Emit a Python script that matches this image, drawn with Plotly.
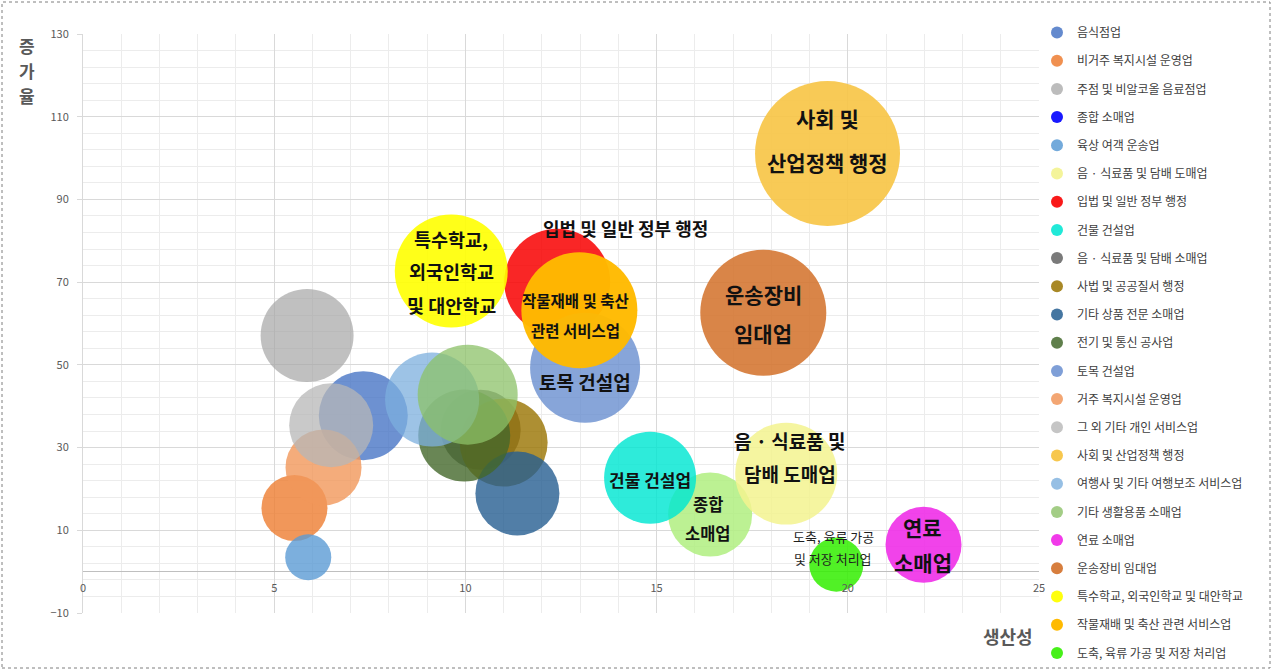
import plotly.graph_objects as go

# ---- data -------------------------------------------------------------
industries = [
    "음식점업", "비거주 복지시설 운영업", "주점 및 비알코올 음료점업", "종합 소매업",
    "육상 여객 운송업", "음 · 식료품 및 담배 도매업", "입법 및 일반 정부 행정", "건물 건설업",
    "음 · 식료품 및 담배 소매업", "사법 및 공공질서 행정", "기타 상품 전문 소매업",
    "전기 및 통신 공사업", "토목 건설업", "거주 복지시설 운영업", "그 외 기타 개인 서비스업",
    "사회 및 산업정책 행정", "여행사 및 기타 여행보조 서비스업", "기타 생활용품 소매업",
    "연료 소매업", "운송장비 임대업", "특수학교, 외국인학교 및 대안학교",
    "작물재배 및 축산 관련 서비스업", "도축, 육류 가공 및 저장 처리업",
]
productivity = [7.33, 5.53, 5.86, 16.4, 5.89, 18.39, 12.4, 14.83, 10.4, 11.0, 11.36,
                9.97, 13.13, 6.29, 6.49, 19.47, 9.13, 10.06, 21.98, 17.79, 9.63,
                12.98, 19.7]
growth = [37.7, 15.4, 57.1, 13.8, 3.5, 23.7, 70.1, 22.7, 34.3, 31.2, 18.9,
          32.9, 49.3, 25.2, 35.4, 101.1, 41.6, 42.8, 6.5, 62.6, 72.7,
          63.2, 1.7]
bubble_size = [39.6, 21.8, 43.2, 35.3, 10.6, 52.0, 56.2, 42.3, 32.0, 38.7, 35.3,
               42.3, 60.5, 28.9, 35.3, 105.1, 44.2, 50.0, 28.9, 79.4, 63.8,
               67.3, 14.6]

# series colours (legend) and fill opacity of each bubble
series_colors = ["#4472C4", "#ED7D31", "#A5A5A5", "#0000FF", "#5B9BD5", "#F3F38F",
                 "#F80000", "#00E6D2", "#636363", "#997300", "#255E91", "#43682B",
                 "#698ED0", "#F1975A", "#B7B7B7", "#F7C548", "#7CAFDD", "#8CC168",
                 "#F02FE8", "#D4742F", "#FFFF00", "#FFBA00", "#33EE00"]
fill_alpha = [0.78, 0.8, 0.7, 0.85, 0.8, 0.85, 0.85, 0.82, 0.8, 0.8, 0.8, 0.8,
              0.8, 0.8, 0.75, 0.92, 0.75, 0.75, 0.9, 0.88, 0.9, 0.97, 0.85]
# individually formatted point fills
point_fill_override = {"종합 소매업": "#B0EE80"}

# bubble labels, one entry per drawn line
bubble_labels = {
    "사회 및 산업정책 행정": ["사회 및", "산업정책 행정"],
    "입법 및 일반 정부 행정": ["입법 및 일반 정부 행정"],
    "특수학교, 외국인학교 및 대안학교": ["특수학교,", "외국인학교", "및 대안학교"],
    "작물재배 및 축산 관련 서비스업": ["작물재배 및 축산", "관련 서비스업"],
    "토목 건설업": ["토목 건설업"],
    "운송장비 임대업": ["운송장비", "임대업"],
    "음 · 식료품 및 담배 도매업": ["음 · 식료품 및", "담배 도매업"],
    "건물 건설업": ["건물 건설업"],
    "종합 소매업": ["종합", "소매업"],
    "도축, 육류 가공 및 저장 처리업": ["도축, 육류 가공", "및 저장 처리업"],
    "연료 소매업": ["연료", "소매업"],
}
# label styling: font size, bold, x offset (px), y offset per line (px, up positive)
label_style = {
    "사회 및 산업정책 행정": (21, True, 0, [36, -8]),
    "입법 및 일반 정부 행정": (18, True, 68, [54]),
    "특수학교, 외국인학교 및 대안학교": (18.5, True, 0, [31.5, -0.5, -34.5]),
    "작물재배 및 축산 관련 서비스업": (15.5, True, -4, [10.5, -19.5]),
    "토목 건설업": (19, True, 0, [-14]),
    "운송장비 임대업": (21, True, 0, [19, -20]),
    "음 · 식료품 및 담배 도매업": (19, True, 4, [33, 0]),
    "건물 건설업": (17, True, 0, [-2]),
    "종합 소매업": (16.5, True, -2, [11, -18]),
    "도축, 육류 가공 및 저장 처리업": (13, False, -3, [28, 6]),
    "연료 소매업": (21, True, -1, [18, -17]),
}

x_title = "생산성"
y_title = "증가율"

# ---- figure -----------------------------------------------------------
FONT = "Noto Sans CJK KR"
W, H = 1273, 670
ML, MR, MT, MB = 83, 234, 34, 57
PW, PH = W - ML - MR, H - MT - MB


def px_to_paper(px, py):
    return (px - ML) / PW, (H - MB - py) / PH


def rgba(hex_color, a):
    h = hex_color.lstrip("#")
    r, g, b = int(h[0:2], 16), int(h[2:4], 16), int(h[4:6], 16)
    return f"rgba({r},{g},{b},{a})"


fills = [rgba(point_fill_override.get(name, col), a)
         for name, col, a in zip(industries, series_colors, fill_alpha)]

fig = go.Figure()

# all bubbles in one trace, drawn in series order
fig.add_trace(go.Scatter(
    x=productivity, y=growth, mode="markers", showlegend=False,
    text=industries, hovertemplate="%{text}<br>생산성 %{x}<br>증가율 %{y}<extra></extra>",
    marker=dict(size=bubble_size, sizemode="area", sizeref=0.01, opacity=1,
                color=fills, line=dict(width=0)),
))

# legend entries use the series colour
for i, (name, col, a) in enumerate(zip(industries, series_colors, fill_alpha)):
    fig.add_trace(go.Scatter(
        x=[None], y=[None], mode="markers", name=name, legendgroup=f"g{i}",
        marker=dict(size=6, color=rgba(col, min(1.0, a + 0.05)), opacity=1),
        hoverinfo="skip",
    ))

annotations = []
for name, lines in bubble_labels.items():
    i = industries.index(name)
    size, bold, dx, dys = label_style[name]
    for line, dy in zip(lines, dys):
        txt = f"<b>{line}</b>" if bold else line
        annotations.append(dict(
            x=productivity[i], y=growth[i], xref="x", yref="y",
            xanchor="center", yanchor="middle",
            xshift=dx, yshift=dy, text=txt, showarrow=False,
            font=dict(family=FONT, size=size, color="#111111" if bold else "#1f1f1f"),
        ))

# axis titles
xt, yt = px_to_paper(1008, 636)
annotations.append(dict(x=xt, y=yt, xref="paper", yref="paper", showarrow=False,
                        xanchor="center", yanchor="middle",
                        text=f"<b>{x_title}</b>",
                        font=dict(family=FONT, size=18, color="#595959")))
# vertical title written one character per row
for ch, py in zip(y_title, [46, 71, 96]):
    ytx, yty = px_to_paper(27, py)
    annotations.append(dict(x=ytx, y=yty, xref="paper", yref="paper", showarrow=False,
                            xanchor="center", yanchor="middle", borderpad=0,
                            text=f"<b>{ch}</b>",
                            font=dict(family=FONT, size=17, color="#595959")))

bx0, by1 = px_to_paper(2, 2)
bx1, by0 = px_to_paper(1270, 668)
lx, ly = px_to_paper(1037, 18)

fig.update_layout(
    width=W, height=H,
    margin=dict(l=ML, r=MR, t=MT, b=MB, pad=0),
    paper_bgcolor="white", plot_bgcolor="white",
    font=dict(family=FONT, color="#595959"),
    xaxis=dict(
        range=[0, 25], tick0=0, dtick=5, showgrid=True, gridcolor="#d9d9d9",
        gridwidth=1, zeroline=False, showline=False, ticks="",
        anchor="free", position=10 / 140, ticklabelstandoff=8,
        tickfont=dict(family=FONT, size=11, color="#595959"),
        minor=dict(dtick=1, tick0=0, showgrid=True, gridcolor="#ececec", ticks=""),
        fixedrange=True,
    ),
    yaxis=dict(
        range=[-10, 130], tick0=-10, dtick=20, showgrid=True, gridcolor="#d9d9d9",
        gridwidth=1, zeroline=True, zerolinecolor="#bfbfbf", zerolinewidth=1,
        showline=True, linecolor="#d9d9d9", linewidth=1,
        ticks="outside", ticklen=5, tickcolor="#d9d9d9", ticklabelstandoff=6,
        tickfont=dict(family=FONT, size=11, color="#595959"),
        minor=dict(dtick=4, tick0=-10, showgrid=True, gridcolor="#ececec", ticks=""),
        fixedrange=True,
    ),
    legend=dict(
        x=lx, y=ly, xanchor="left", yanchor="top",
        font=dict(family=FONT, size=12, color="#404040"),
        traceorder="grouped", tracegroupgap=9.2, itemsizing="constant",
        itemwidth=30, bgcolor="rgba(0,0,0,0)", borderwidth=0,
        maxheight=660,
    ),
    annotations=annotations,
    shapes=[dict(type="rect", xref="paper", yref="paper",
                 x0=bx0, x1=bx1, y0=by0, y1=by1,
                 line=dict(color="#7f7f7f", width=1, dash="dot"),
                 fillcolor="rgba(0,0,0,0)", layer="above")],
)

fig.write_html("out.html")
